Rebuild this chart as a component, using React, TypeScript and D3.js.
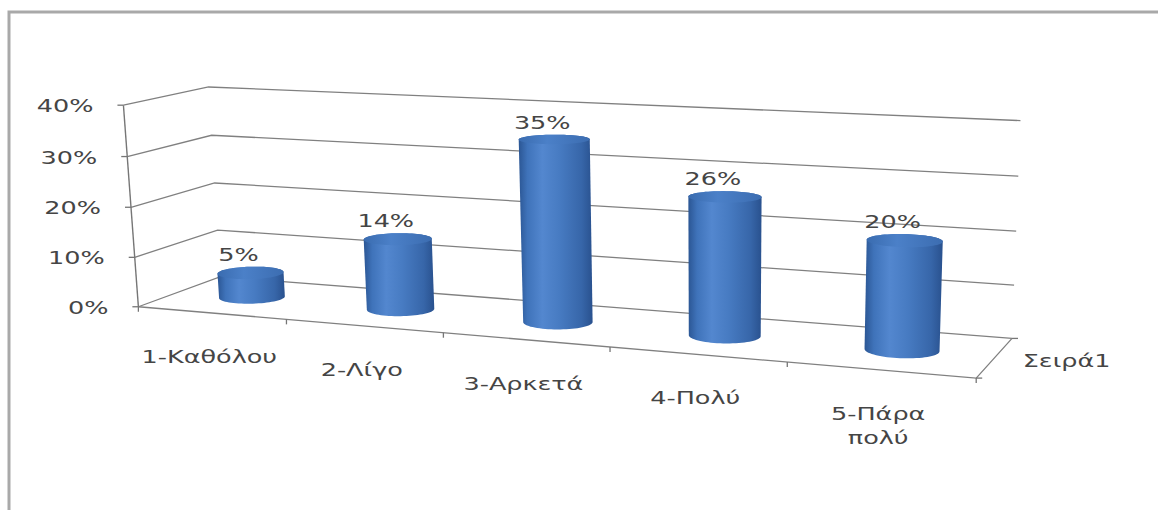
import React, { useMemo } from "react";
import * as d3 from "d3";

// ---------- data ----------
const categories = ["1-Καθόλου", "2-Λίγο", "3-Αρκετά", "4-Πολύ", "5-Πάρα πολύ"];
const categoryLines = [["1-Καθόλου"], ["2-Λίγο"], ["3-Αρκετά"], ["4-Πολύ"], ["5-Πάρα", "πολύ"]];
const values = [0.05, 0.14, 0.35, 0.26, 0.2];
const seriesNames = ["Σειρά1"];
const yTicks = [0, 0.1, 0.2, 0.3, 0.4];
const yMax = 0.4;

// ---------- layout ----------
const W = 1158;
const H = 510;
const FONT = "DejaVu Sans";
const FS = 17;
const SX = 1.5; // horizontal stretch of the reference text
const TEXT = "#454545";
const GRID = "#808080";

// Calibration of the 3D plot box: world (X: 0..5 categories, Y: 0..1 value, Z: 0..1 depth) -> screen
const CALIB: number[][] = [
  [0, 0, 0, 140, 306.5],
  [1, 0, 0, 286.7, 319.1],
  [2, 0, 0, 443.3, 332.5],
  [3, 0, 0, 610, 346.8],
  [4, 0, 0, 786.7, 362],
  [5, 0, 0, 976.7, 378.3],
  [0, 0.25, 0, 135.6, 257.7],
  [0, 0.5, 0, 131.1, 208.3],
  [0, 0.75, 0, 126.3, 156],
  [0, 1, 0, 121.7, 105],
  [0, 0, 1, 218, 277.5],
  [0, 0.25, 1, 216, 230],
  [0, 0.5, 1, 217, 182.5],
  [0, 0.75, 1, 213, 135],
  [0, 1, 1, 209, 87],
  [5, 0, 1, 1015, 338],
  [5, 0.25, 1, 1012, 285],
  [5, 0.5, 1, 1014, 231.7],
  [5, 0.75, 1, 1018, 175],
  [5, 1, 1, 1022, 121.7],
];

const U0 = 580, V0 = 250, SC = 500;

function solve(A: number[][], b: number[]) {
  const n = b.length;
  const M = A.map((row, i) => [...row, b[i]]);
  for (let c = 0; c < n; c++) {
    let piv = c;
    for (let r = c + 1; r < n; r++) if (Math.abs(M[r][c]) > Math.abs(M[piv][c])) piv = r;
    const tmp = M[c]; M[c] = M[piv]; M[piv] = tmp;
    for (let r = 0; r < n; r++) {
      if (r === c) continue;
      const f = M[r][c] / M[c][c];
      for (let k = c; k <= n; k++) M[r][k] -= f * M[c][k];
    }
  }
  return M.map((row, i) => row[n] / row[i]);
}

function fitProjection(pts: number[][]) {
  const n = 11;
  const A = Array.from({ length: n }, () => new Array(n).fill(0));
  const b = new Array(n).fill(0);
  const add = (row: number[], rhs: number) => {
    for (let i = 0; i < n; i++) {
      for (let j = 0; j < n; j++) A[i][j] += row[i] * row[j];
      b[i] += row[i] * rhs;
    }
  };
  for (const [X, Y, Z, uu, vv] of pts) {
    const u = (uu - U0) / SC, v = (vv - V0) / SC;
    add([X, Y, Z, 1, 0, 0, 0, 0, -u * X, -u * Y, -u * Z], u);
    add([0, 0, 0, 0, X, Y, Z, 1, -v * X, -v * Y, -v * Z], v);
  }
  const p = solve(A, b);
  return (X: number, Y: number, Z: number): [number, number] => {
    const w = p[8] * X + p[9] * Y + p[10] * Z + 1;
    const u = (p[0] * X + p[1] * Y + p[2] * Z + p[3]) / w;
    const v = (p[4] * X + p[5] * Y + p[6] * Z + p[7]) / w;
    return [u * SC + U0, v * SC + V0];
  };
}

const STag = ({ x, y, anchor = "middle", children, size = FS }: any) => (
  <g transform={`translate(${x},${y}) scale(${SX},1)`}>
    <text textAnchor={anchor} fontFamily={FONT} fontSize={size} fill={TEXT}>
      {children}
    </text>
  </g>
);

export default function App() {
  const geo = useMemo(() => {
    const project = fitProjection(CALIB);
    const xBand = d3.scaleBand<string>().domain(categories).range([0, 5]).paddingInner(0.6).paddingOuter(0.3);
    const zBand = d3.scaleBand<string>().domain(seriesNames).range([0, 1]).paddingInner(0.6).paddingOuter(0.3);
    const yW = d3.scaleLinear().domain([0, yMax]).range([0, 1]);
    const X0 = 0, X1 = 5, Zf = 0, Zb = 1;
    const line = d3.line();

    const grid = yTicks.map((t) => {
      const Y = yW(t);
      return line([project(X0, Y, Zf), project(X0, Y, Zb), project(X1, Y, Zb)]) as string;
    });
    const floor = line([project(X0, 0, Zf), project(X1, 0, Zf), project(X1, 0, Zb)]) as string;
    const axis = line([project(X0, 0, Zf), project(X0, 1, Zf)]) as string;
    const yTickMarks = yTicks.map((t) => {
      const p = project(X0, yW(t), Zf);
      return { t, p };
    });
    const step = xBand.step();
    const xTicks = d3.range(categories.length + 1).map((i) => project(X0 + i * step, 0, Zf));
    const catLabels = categories.map((c, i) => {
      const cx = (xBand(c) as number) + xBand.bandwidth() / 2;
      return { p: project(cx, 0, Zf), lines: categoryLines[i] };
    });

    const zc = (zBand(seriesNames[0]) as number) + zBand.bandwidth() / 2;
    const rz = zBand.bandwidth() / 2;
    const rx = xBand.bandwidth() / 2;
    const N = 72;
    const bars = categories.map((c, i) => {
      const cx = (xBand(c) as number) + xBand.bandwidth() / 2;
      const h = yW(values[i]);
      const ring = (Y: number) =>
        d3.range(N).map((k) => {
          const a = (k / N) * Math.PI * 2;
          return project(cx + rx * Math.cos(a), Y, zc + rz * Math.sin(a));
        });
      const top = ring(h);
      const bottom = ring(0);
      const hull = d3.polygonHull([...top, ...bottom]) as [number, number][];
      const topY = d3.min(top, (d) => d[1]) as number;
      const center = project(cx, h, zc);
      return {
        body: "M" + hull.map((d) => d.join(",")).join("L") + "Z",
        top: "M" + top.map((d) => d.join(",")).join("L") + "Z",
        topY,
        cx: center[0],
        label: d3.format(".0%")(values[i]),
      };
    });
    const depthMid = project(X1, 0, (Zf + Zb) / 2);
    const depthEnds = [project(X1, 0, Zf), project(X1, 0, Zb)];
    return { grid, floor, axis, yTickMarks, xTicks, catLabels, bars, depthMid, depthEnds };
  }, []);

  return (
    <svg
      width={W}
      height={H}
      viewBox={`0 0 ${W} ${H}`}
      style={{ position: "absolute", left: 0, top: 0, display: "block", background: "#fff" }}
    >
      <defs>
        <linearGradient id="cyl" x1="0" y1="0" x2="1" y2="0">
          <stop offset="0%" stopColor="#2b5694" />
          <stop offset="12%" stopColor="#3f73ba" />
          <stop offset="32%" stopColor="#5387cf" />
          <stop offset="55%" stopColor="#477bc2" />
          <stop offset="85%" stopColor="#3766a9" />
          <stop offset="100%" stopColor="#29518e" />
        </linearGradient>
        <linearGradient id="cylTop" x1="0" y1="0" x2="1" y2="0">
          <stop offset="0%" stopColor="#3a6cb0" />
          <stop offset="40%" stopColor="#4b80c8" />
          <stop offset="100%" stopColor="#3c6db1" />
        </linearGradient>
      </defs>

      {/* chart frame */}
      <rect x={9} y={12} width={W + 20} height={H + 20} fill="none" stroke="#a9a9a9" strokeWidth={3} />

      {/* walls grid */}
      {geo.grid.map((d, i) => (
        <path key={i} d={d} fill="none" stroke={GRID} strokeWidth={1.3} />
      ))}
      <path d={geo.floor} fill="none" stroke={GRID} strokeWidth={1.3} />
      <path d={geo.axis} fill="none" stroke="#767676" strokeWidth={1.4} />

      {/* y ticks + labels */}
      {geo.yTickMarks.map(({ t, p }) => (
        <g key={t}>
          <line x1={p[0] - 6} y1={p[1]} x2={p[0]} y2={p[1]} stroke="#767676" strokeWidth={1.3} />
          <STag x={p[0] - 30} y={p[1] + 7} anchor="end">
            {d3.format(".0%")(t)}
          </STag>
        </g>
      ))}

      {/* category ticks */}
      {geo.xTicks.map((p, i) => (
        <line key={i} x1={p[0]} y1={p[1]} x2={p[0]} y2={p[1] + 5} stroke="#767676" strokeWidth={1.3} />
      ))}

      {/* depth axis ticks */}
      {geo.depthEnds.map((p, i) => (
        <line key={i} x1={p[0]} y1={p[1]} x2={p[0] + 6} y2={p[1]} stroke="#767676" strokeWidth={1.3} />
      ))}

      {/* cylinders */}
      {geo.bars.map((b, i) => (
        <g key={i}>
          <path d={b.body} fill="url(#cyl)" />
          <path d={b.top} fill="url(#cylTop)" />
          <STag x={b.cx - 12} y={b.topY - 6}>
            {b.label}
          </STag>
        </g>
      ))}

      {/* category labels */}
      {geo.catLabels.map((c, i) => (
        <g key={i}>
          {c.lines.map((ln, j) => (
            <STag key={j} x={c.p[0] - 2} y={c.p[1] + 50 + j * 24}>
              {ln}
            </STag>
          ))}
        </g>
      ))}

      {/* series (depth) label */}
      <STag x={geo.depthMid[0] + 28} y={geo.depthMid[1] + 9} anchor="start">
        {seriesNames[0]}
      </STag>
    </svg>
  );
}
